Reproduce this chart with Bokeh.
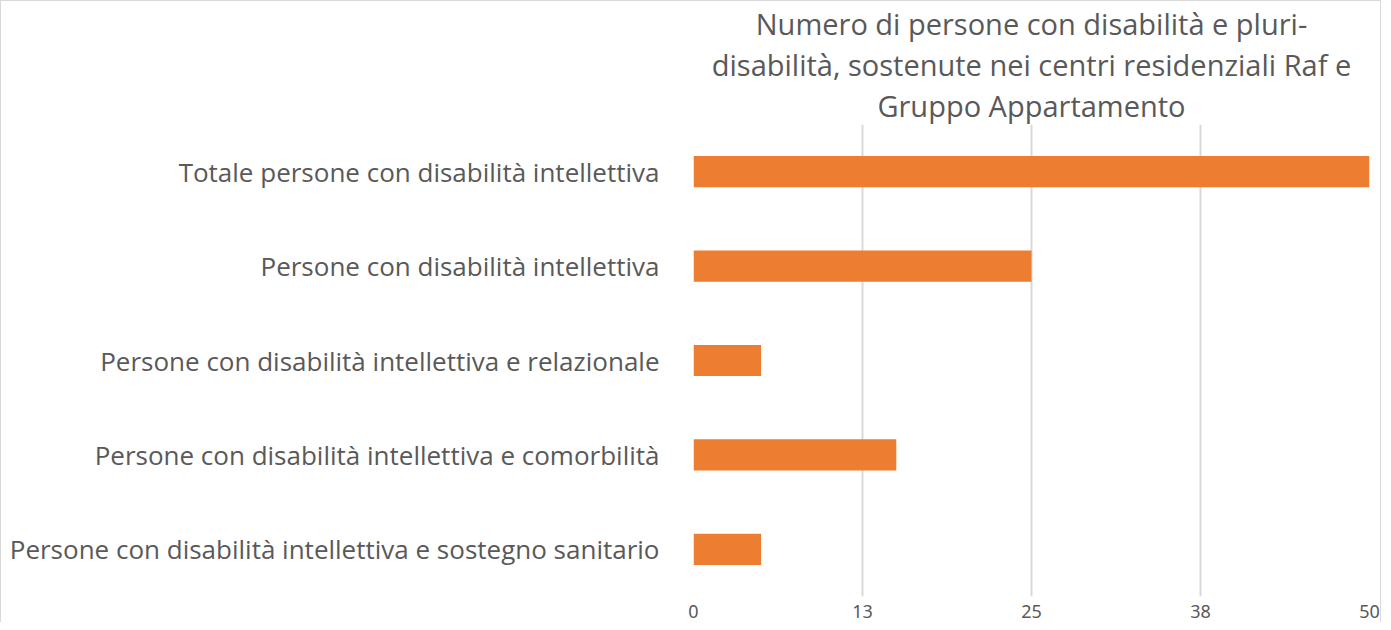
from bokeh.plotting import figure
from bokeh.models import FixedTicker, Title, CustomJSTickFormatter, ColumnDataSource
from bokeh.embed import file_html
from bokeh.resources import INLINE

categories = [
    "Totale persone con disabilità intellettiva",
    "Persone con disabilità intellettiva",
    "Persone con disabilità intellettiva e relazionale",
    "Persone con disabilità intellettiva e comorbilità",
    "Persone con disabilità intellettiva e sostegno sanitario",
]
values = [50, 25, 5, 15, 5]
tick_values = [0, 12.5, 25, 37.5, 50]
title_lines = [
    "Numero di persone con disabilità e pluri-",
    "disabilità, sostenute nei centri residenziali Raf e",
    "Gruppo Appartamento",
]

TXT = "#595959"
FONT = "Open Sans"

src = ColumnDataSource(dict(cat=categories, val=values))

p = figure(
    width=1381, height=622,
    y_range=list(reversed(categories)),
    x_range=(0, 50),
    output_backend="svg", toolbar_location=None,
    min_border_left=692, min_border_right=13, min_border_bottom=27, min_border_top=0,
    title=title_lines[0],
)
p.styles = {
    "border-top": "1px solid #d9d9d9",
    "border-left": "1px solid #d9d9d9",
    "border-right": "1px solid #d9d9d9",
}

t3 = Title(text=title_lines[2], align="center")
t2 = Title(text=title_lines[1], align="center")
p.add_layout(t3, "above")
p.add_layout(t2, "above")
for t in [p.title, t2, t3]:
    t.align = "center"
    t.text_font = FONT
    t.text_font_size = "29px"
    t.text_font_style = "normal"
    t.text_color = TXT
    t.standoff = 0
    t.offset = 0

p.hbar(y="cat", right="val", height=0.33, left=0, source=src,
       color="#ED7D31", line_color=None)

p.outline_line_color = None
p.ygrid.grid_line_color = None
p.xgrid.grid_line_color = "#d9d9d9"
p.xgrid.grid_line_width = 2
p.xaxis.ticker = FixedTicker(ticks=tick_values)
p.xaxis.formatter = CustomJSTickFormatter(code="return Math.round(tick).toString();")
p.xaxis.axis_line_color = None
p.xaxis.major_tick_line_color = None
p.xaxis.minor_tick_line_color = None
p.xaxis.major_label_text_font = "Noto Sans"
p.xaxis.major_label_text_font_size = "18px"
p.xaxis.major_label_text_color = TXT
p.xaxis.major_label_standoff = 2

p.yaxis.axis_line_color = None
p.yaxis.major_tick_line_color = None
p.yaxis.minor_tick_line_color = None
p.yaxis.major_label_text_font = FONT
p.yaxis.major_label_text_font_size = "26px"
p.yaxis.major_label_text_color = TXT
p.yaxis.major_label_standoff = 28

open("out.html", "w").write(file_html(p, INLINE))
